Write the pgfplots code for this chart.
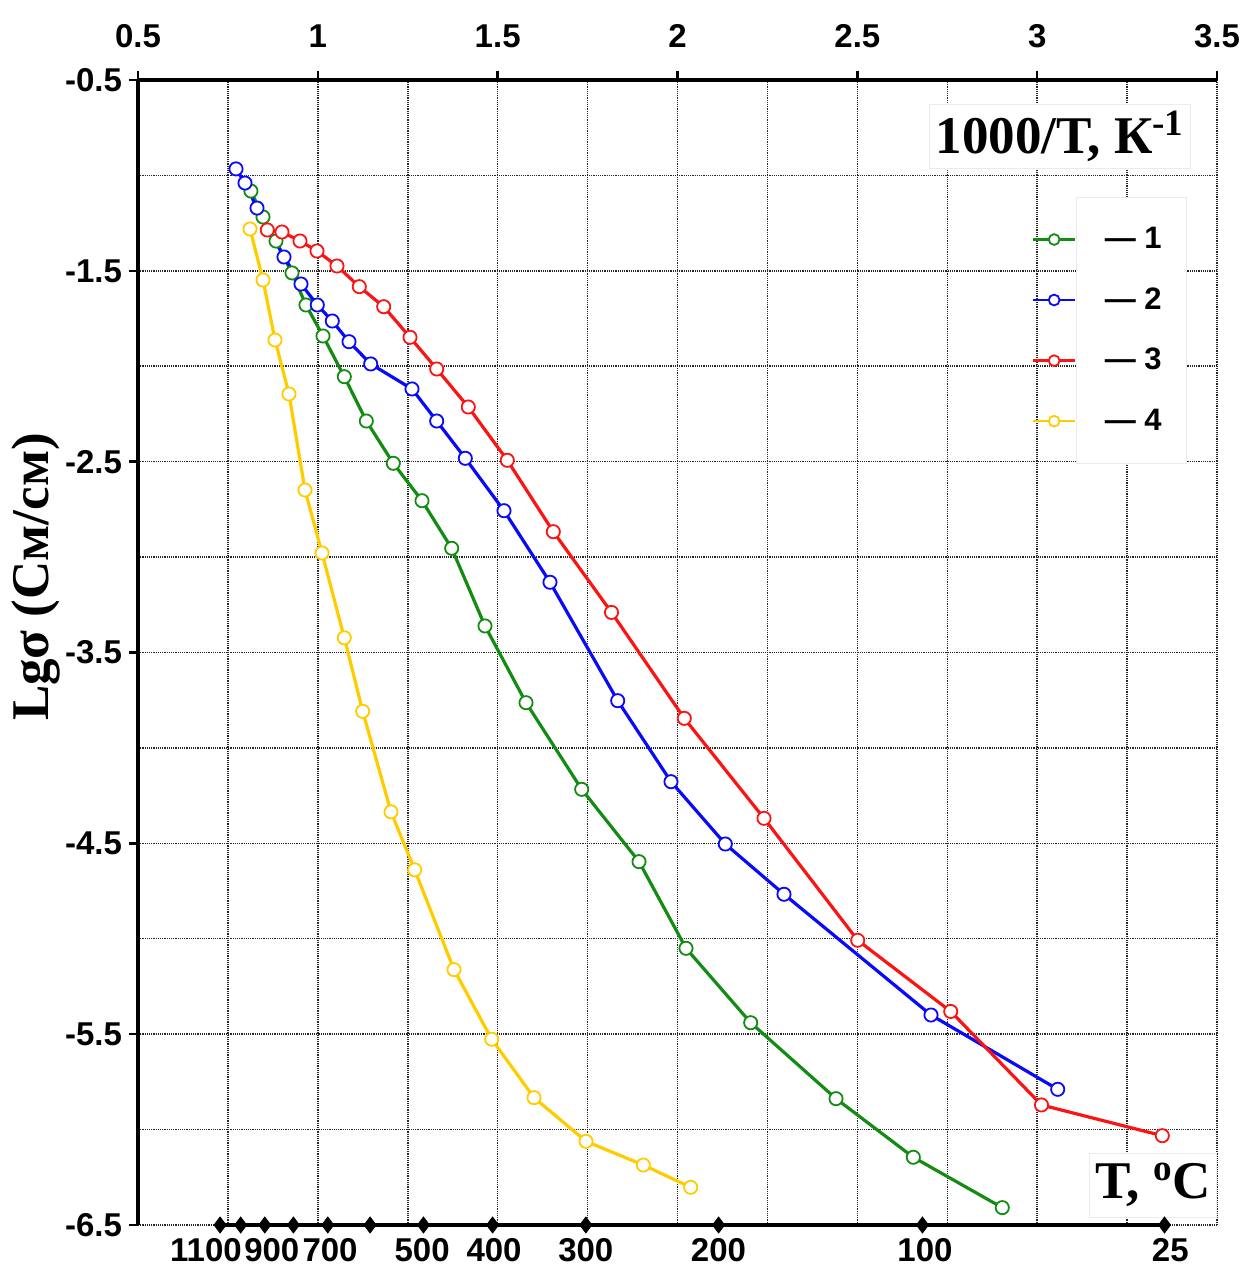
\documentclass[border=0pt]{standalone}
\usepackage{fontspec}
\setmainfont{Liberation Serif}
\newfontfamily\lsans{Liberation Sans}
\usepackage{pgfplots}
\pgfplotsset{compat=1.18}
\definecolor{cgreen}{RGB}{20,140,20}
\definecolor{cblue}{RGB}{10,10,250}
\definecolor{cred}{RGB}{250,20,20}
\definecolor{cyellow}{RGB}{255,204,0}
\newcommand{\tickfont}{\lsans\bfseries\fontsize{16.5}{18}\selectfont}
\newcommand{\legfont}{\lsans\bfseries\fontsize{15.5}{17}\selectfont}
\newcommand{\labfont}{\bfseries\fontsize{26.5}{30}\selectfont}
\pgfplotsset{ser/.style={line width=1.6pt, mark=*, mark size=3.3pt, mark options={fill=white, solid, line width=0.9pt}}}
\begin{document}
\begin{tikzpicture}
\begin{axis}[
  scale only axis, width=539.5pt, height=572.5pt,
  xmin=0.5, xmax=3.5, ymin=-6.5, ymax=-0.5,
  clip=false,
  axis x line*=top, axis y line*=left,
  axis line style={line width=2pt, -},
  xtick={0.5,1,1.5,2,2.5,3,3.5}, xticklabels={0.5,1,1.5,2,2.5,3,3.5},
  ytick={-6.5,-5.5,-4.5,-3.5,-2.5,-1.5,-0.5}, yticklabels={-6.5,-5.5,-4.5,-3.5,-2.5,-1.5,-0.5},
  minor x tick num=1, minor y tick num=1,
  xticklabel pos=top, yticklabel pos=left,
  xtick pos=top, ytick pos=left,
  tick align=outside,
  major tick length=4.5pt, minor tick length=0pt,
  tick style={black, line width=1.2pt},
  grid=both,
  major grid style={dash pattern=on 0.6pt off 0.5pt, black!85, line width=0.75pt},
  minor grid style={dash pattern=on 0.6pt off 0.5pt, black!85, line width=0.75pt},
  ticklabel style={font=\tickfont},
  xticklabel style={yshift=8pt},
  yticklabel style={xshift=0pt},
  legend style={at={(axis cs:3.4166,-1.113)}, anchor=north east, draw=black!8, fill=white,
    inner xsep=12.5pt, inner ysep=15pt, row sep=18pt, column sep=0pt,
    font=\legfont, nodes={inner sep=0pt}},
  legend cell align=left,
  legend image code/.code={\path (0pt,0pt); \draw[overlay,mark repeat=2,mark phase=2,#1,mark size=2.7pt,line width=1.3pt] plot coordinates {(-35pt,0pt) (-24.5pt,0pt) (-14pt,0pt)};},
]
\addplot[ser, cgreen] coordinates {
(0.814,-1.082) (0.8475,-1.218) (0.8837,-1.344) (0.9282,-1.511) (0.967,-1.679)
(1.0144,-1.8415) (1.0736,-2.0548) (1.1348,-2.287) (1.2098,-2.5086) (1.2896,-2.7046)
(1.3722,-2.954) (1.4648,-3.361) (1.5788,-3.763) (1.7336,-4.217) (1.893,-4.596)
(2.0236,-5.050) (2.2035,-5.440) (2.4407,-5.838) (2.6556,-6.145) (2.903,-6.409)};
\addlegendentry{— 1}
\addplot[ser, cblue] coordinates {
(0.7725,-0.966) (0.7975,-1.040) (0.8309,-1.171) (0.9059,-1.4275) (0.9532,-1.569)
(0.9985,-1.679) (1.0402,-1.763) (1.0867,-1.8714) (1.147,-1.988) (1.2618,-2.119)
(1.3305,-2.287) (1.41,-2.4824) (1.5176,-2.757) (1.6455,-3.132) (1.8337,-3.7526)
(1.9819,-4.177) (2.1329,-4.5036) (2.2961,-4.767) (2.7048,-5.3997) (3.0571,-5.789)};
\addlegendentry{— 2}
\addplot[ser, cred] coordinates {
(0.8595,-1.286) (0.9004,-1.2965) (0.9504,-1.3437) (0.9977,-1.396) (1.0533,-1.4747)
(1.1153,-1.583) (1.1831,-1.688) (1.2563,-1.8483) (1.3305,-2.0144) (1.4183,-2.2136)
(1.5268,-2.4929) (1.6547,-2.867) (1.8165,-3.290) (2.0189,-3.845) (2.2405,-4.369)
(2.501,-5.008) (2.7596,-5.381) (3.012,-5.871) (3.3479,-6.032)};
\addlegendentry{— 3}
\addplot[ser, cyellow] coordinates {
(0.8114,-1.2808) (0.8475,-1.548) (0.8809,-1.8625) (0.9198,-2.1455) (0.9643,-2.6485)
(1.0116,-2.9787) (1.0736,-3.423) (1.1247,-3.808) (1.2034,-4.335) (1.2693,-4.639)
(1.3786,-5.162) (1.4834,-5.5265) (1.601,-5.8326) (1.7456,-6.0615) (1.9049,-6.1857)
(2.0367,-6.3025)};
\addlegendentry{— 4}
% temperature scale (1000/(T+273))
\addplot[black, line width=2pt, mark=diamond*, mark size=4pt, mark options={solid, line width=0.4pt}, forget plot] coordinates {
(0.7283,-6.5) (0.7855,-6.5) (0.8525,-6.5) (0.9320,-6.5) (1.0277,-6.5) (1.1453,-6.5)
(1.2937,-6.5) (1.4859,-6.5) (1.7452,-6.5) (2.1142,-6.5) (2.6810,-6.5) (3.3540,-6.5)};
\addplot[draw=none, mark=none, forget plot, nodes near coords, point meta=explicit symbolic,
  nodes near coords align={below},
  every node near coord/.append style={font=\tickfont, inner sep=0pt, yshift=-6.5pt}] coordinates {
(0.689,-6.5)[1100] (0.872,-6.5)[900] (1.034,-6.5)[700] (1.29,-6.5)[500] (1.49,-6.5)[400]
(1.745,-6.5)[300] (2.114,-6.5)[200] (2.688,-6.5)[100] (3.37,-6.5)[25]};
\node[fill=white, draw=black!8, font=\labfont, inner xsep=3pt, minimum height=32pt] at (axis cs:3.0635,-0.7935) {1000/T, К\textsuperscript{-1}};
\node[fill=white, draw=black!8, font=\labfont, inner xsep=3pt, minimum height=32pt] at (axis cs:3.322,-6.2905) {T, \textsuperscript{o}C};
\node[rotate=90, font=\labfont] at ([xshift=-51pt]rel axis cs:0,0.566) {Lgσ (См/см)};
\coordinate (SW) at (rel axis cs:0,0);
\coordinate (NE) at (rel axis cs:1,1);
\end{axis}
\pgfresetboundingbox
\useasboundingbox ([xshift=-69pt,yshift=-21pt]SW) rectangle ([xshift=16pt,yshift=40pt]NE);
\end{tikzpicture}
\end{document}
